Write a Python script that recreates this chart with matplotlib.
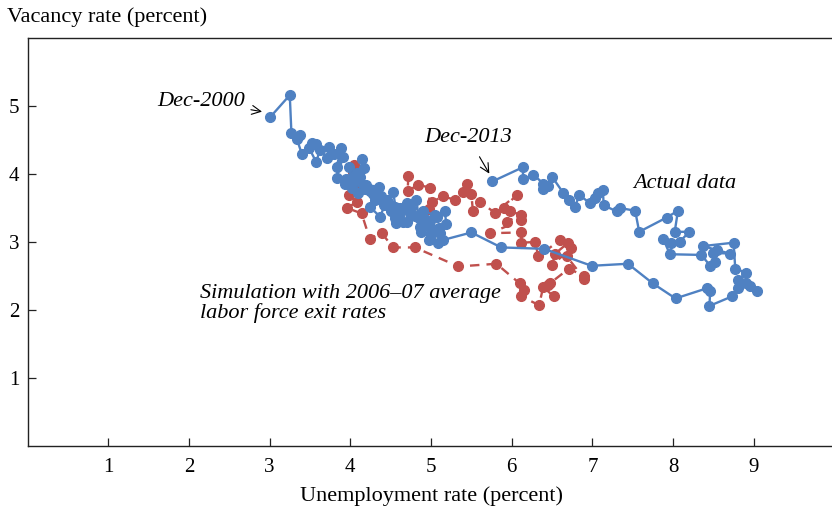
import matplotlib
matplotlib.use("Agg")
import matplotlib.pyplot as plt

# Actual data, Dec-2000 .. Dec-2013 (unemployment, vacancy)
actual_u = [3.01, 3.25, 3.27, 3.38, 3.34, 3.40, 3.52, 3.58, 3.49, 3.58, 3.62, 3.73, 3.71, 3.80,
            3.89, 3.83, 3.91, 3.83, 3.93, 4.03, 4.12, 4.15, 4.17, 4.16, 4.20, 4.35, 4.24, 4.37,
            4.45, 4.53, 4.56, 4.57, 4.70, 4.70, 4.82, 4.86, 4.95, 4.99, 5.07, 4.97, 5.09, 5.11,
            5.19, 5.17,
            5.05, 4.90, 4.80, 4.75, 4.62, 4.65, 4.55, 4.50, 4.42, 4.38, 4.30, 4.25, 4.10, 4.02,
            3.95, 4.08, 3.98, 4.05, 4.18, 4.28,
            4.40, 4.50, 4.62, 4.75, 4.85, 4.92, 4.88, 5.00, 5.10, 5.15, 5.50, 5.87, 6.40, 6.99,
            7.44, 7.75, 8.03, 8.42, 8.46, 8.45, 8.73, 8.81, 8.95, 9.04, 8.90, 8.81, 8.90, 8.77,
            8.75, 8.37, 8.55, 8.70, 8.50, 8.52, 8.46, 8.35, 7.96, 7.88, 7.98, 8.08, 8.20, 8.02,
            8.06, 7.92, 7.58, 7.53, 7.34, 7.30, 7.14, 7.13, 7.07, 7.03, 6.97, 6.84, 6.78, 6.71,
            6.64, 6.50, 6.45, 6.39, 6.39, 6.27, 6.14, 6.14, 5.76]
actual_v = [4.84, 5.16, 4.61, 4.58, 4.51, 4.29, 4.45, 4.44, 4.38, 4.17, 4.36, 4.39, 4.23, 4.30,
            4.38, 4.11, 4.25, 3.94, 3.86, 3.97, 3.96, 4.22, 4.09, 3.84, 3.84, 3.81, 3.52, 3.37,
            3.62, 3.74, 3.52, 3.28, 3.30, 3.57, 3.62, 3.22, 3.32, 3.22, 3.37, 3.03, 2.98, 3.13,
            3.27, 3.45,
            3.40, 3.45, 3.38, 3.50, 3.42, 3.30, 3.35, 3.45, 3.55, 3.68, 3.62, 3.75, 3.72, 3.80,
            3.92, 4.02, 4.10, 3.88, 3.78, 3.70,
            3.60, 3.55, 3.50, 3.40, 3.35, 3.28, 3.15, 3.10, 3.20, 3.03, 3.14, 2.92, 2.90, 2.65,
            2.68, 2.39, 2.17, 2.32, 2.28, 2.06, 2.20, 2.32, 2.35, 2.28, 2.40, 2.44, 2.55, 2.61,
            2.99, 2.94, 2.88, 2.83, 2.84, 2.71, 2.65, 2.81, 2.82, 3.04, 2.98, 3.00, 3.15, 3.15,
            3.46, 3.36, 3.15, 3.46, 3.50, 3.45, 3.54, 3.76, 3.72, 3.64, 3.57, 3.69, 3.51, 3.62,
            3.72, 3.96, 3.82, 3.78, 3.86, 3.99, 3.92, 4.10, 3.89]

# Simulation with 2006-07 average labor force exit rates
sim_u = [4.04, 4.03, 4.10, 4.04, 3.98, 4.08, 3.96, 4.14, 4.24, 4.39, 4.53, 4.80, 5.34, 5.81,
         6.10, 6.15, 6.12, 6.34, 6.39, 6.52, 6.47, 6.45, 6.71, 6.89, 6.90, 6.68, 6.74, 6.50,
         6.54, 6.70, 6.60, 6.33, 6.29, 6.12, 6.12, 5.73, 6.12, 5.94, 6.12, 5.98, 5.90, 6.06,
         5.79, 5.61, 5.52, 5.50, 5.44, 5.40, 5.30, 5.15, 5.01, 4.97, 4.99, 4.84, 4.71, 4.72]
sim_v = [4.13, 4.03, 3.84, 3.86, 3.69, 3.59, 3.50, 3.42, 3.05, 3.13, 2.92, 2.92, 2.64, 2.68,
         2.39, 2.30, 2.20, 2.07, 2.34, 2.20, 2.39, 2.37, 2.61, 2.50, 2.46, 2.79, 2.91, 2.66,
         2.83, 2.99, 3.03, 2.79, 3.00, 2.99, 3.14, 3.13, 3.32, 3.30, 3.40, 3.45, 3.50, 3.69,
         3.43, 3.59, 3.45, 3.70, 3.86, 3.74, 3.62, 3.67, 3.59, 3.49, 3.80, 3.84, 3.75, 3.97]

x_ticks = [1, 2, 3, 4, 5, 6, 7, 8, 9]
y_ticks = [1, 2, 3, 4, 5]

blue = '#4f81c2'
red = '#c0504d'

plt.rcParams['font.family'] = ['Liberation Serif', 'DejaVu Serif']

fig = plt.figure(figsize=(8.32, 5.13), dpi=100)
ax = fig.add_axes([27.5 / 832, 67 / 513, 807 / 832, 408 / 513])

ax.plot(sim_u, sim_v, color=red, linestyle=(0, (4, 3)), linewidth=1.7,
        marker='o', markersize=7, zorder=2)
ax.plot(actual_u, actual_v, color=blue, linestyle='-', linewidth=1.7,
        marker='o', markersize=7, zorder=3)

ax.set_xlim(0, 10)
ax.set_ylim(0, 6)
ax.set_xticks(x_ticks)
ax.set_yticks(y_ticks)
ax.tick_params(direction='in', length=6, width=0.9, labelsize=15, color='#222222')
ax.tick_params(axis='x', pad=9)
ax.tick_params(axis='y', pad=6)
ax.spines['right'].set_visible(False)
for s in ['left', 'top', 'bottom']:
    ax.spines[s].set_linewidth(1.0)
    ax.spines[s].set_color('#222222')

ax.set_xlabel('Unemployment rate (percent)', fontsize=16, labelpad=6)
fig.text(7 / 832, 1 - 17 / 513, 'Vacancy rate (percent)', fontsize=16,
         ha='left', va='center')

ax.annotate('Dec-2000', xy=(2.94, 4.91), xytext=(2.70, 5.07), fontsize=16,
            style='italic', ha='right', va='center',
            arrowprops=dict(arrowstyle='->', color='black', lw=0.8))
ax.annotate('Dec-2013', xy=(5.74, 3.97), xytext=(5.46, 4.54), fontsize=16,
            style='italic', ha='center', va='center',
            arrowprops=dict(arrowstyle='->', color='black', lw=0.8, shrinkA=6))
ax.text(7.5, 3.86, 'Actual data', fontsize=16, style='italic', ha='left', va='center')
ax.text(2.14, 2.1, 'Simulation with 2006\u201307 average\nlabor force exit rates',
        fontsize=16, style='italic', ha='left', va='center', linespacing=1.0)

fig.savefig('out.png', dpi=100)
